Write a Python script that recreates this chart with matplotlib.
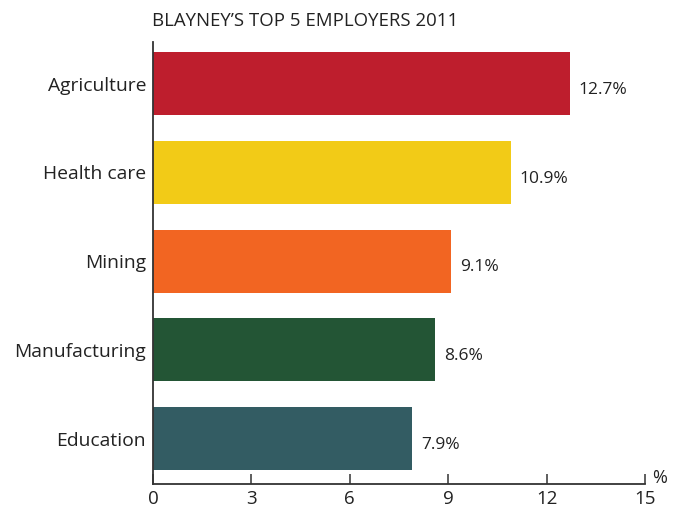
import matplotlib
matplotlib.use("Agg")
import matplotlib.pyplot as plt

categories = ["Education", "Manufacturing", "Mining", "Health care", "Agriculture"]
values = [7.9, 8.6, 9.1, 10.9, 12.7]
colors = ["#335C63", "#235535", "#F26522", "#F2CB17", "#BE1E2D"]
xticks = [0, 3, 6, 9, 12, 15]
title = "BLAYNEY\u2019S TOP 5 EMPLOYERS 2011"

plt.rcParams['font.family'] = ['Open Sans', 'DejaVu Sans']

fig = plt.figure(figsize=(6.85, 5.07), dpi=100)
ax = fig.add_axes([153/685, 1-484/507, (645-153)/685, (484-42)/507])

y = list(range(len(categories)))
ax.barh(y, values, height=0.71, color=colors)
for yi, v in zip(y, values):
    ax.text(v + 0.27, yi - 0.07, f"{v}%", va="center", ha="left", fontsize=12.5, color="#222222")

ax.set_xlim(0, 15)
ax.set_ylim(-0.51, 4.47)
ax.set_xticks(xticks)
ax.set_xticklabels([str(t) for t in xticks], fontsize=13.5, color="#222222")
ax.set_yticks(y)
ax.set_yticklabels(categories, fontsize=13.9, color="#222222")
ax.tick_params(axis="x", direction="in", length=7, width=1.1, color="#333333", pad=4)
ax.tick_params(axis="y", length=0, pad=5)
for s in ["top", "right"]:
    ax.spines[s].set_visible(False)
for s in ["left", "bottom"]:
    ax.spines[s].set_color("#333333")
    ax.spines[s].set_linewidth(1.3)

fig.text(152/685, 1-21/507, title, ha="left", va="center", fontsize=13.4, color="#222222")
fig.text(652/685, 1-478/507, "%", ha="left", va="center", fontsize=13, color="#222222")

fig.savefig("out.png", dpi=100)
